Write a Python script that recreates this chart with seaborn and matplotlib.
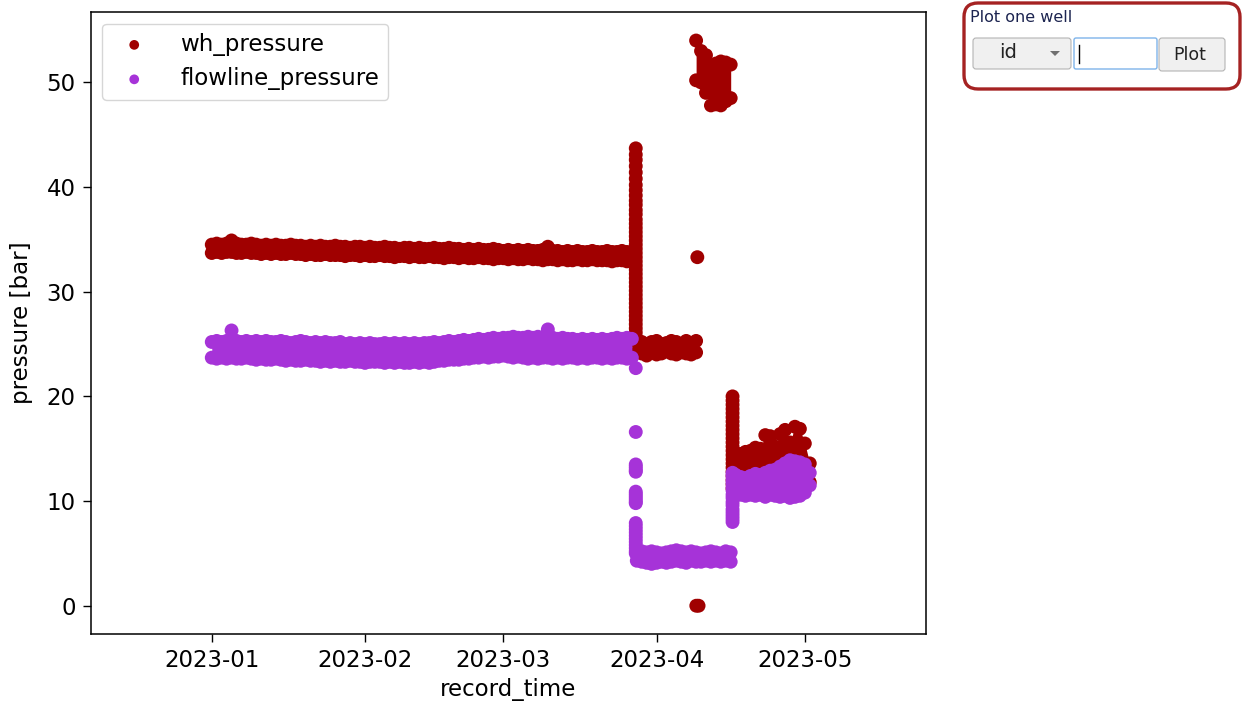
import matplotlib
matplotlib.use("Agg")
import matplotlib.pyplot as plt
import matplotlib.dates as mdates
from matplotlib.patches import FancyBboxPatch, Polygon
import seaborn as sns
import pandas as pd

WH_COLOR = "#a00000"
FL_COLOR = "#a633d8"
FS = 16.5

# ---- wh_pressure ----
# steady period, daily from 2023-01-01: top / bottom edge of the band
wh_a_hi = [34.5, 34.6, 34.5, 34.6, 34.9, 34.6, 34.5, 34.5, 34.6, 34.5,
           34.4, 34.5, 34.4, 34.5, 34.4, 34.4, 34.5, 34.4, 34.4, 34.3,
           34.4, 34.3, 34.4, 34.3, 34.3, 34.4, 34.3, 34.3, 34.2, 34.3,
           34.3, 34.2, 34.3, 34.2, 34.2, 34.3, 34.2, 34.2, 34.1, 34.2,
           34.2, 34.1, 34.2, 34.1, 34.1, 34.2, 34.1, 34.1, 34.2, 34.1,
           34.1, 34.0, 34.1, 34.0, 34.1, 34.0, 34.0, 34.1, 34.0, 33.9,
           34.0, 33.9, 34.0, 33.9, 34.0, 33.9, 33.9, 34.0, 34.3, 33.9,
           33.9, 33.8, 33.9, 33.8, 33.9, 33.8, 33.8, 33.9, 33.8, 33.8,
           33.9, 33.8, 33.8, 33.9, 33.8, 33.8]
wh_a_lo = [33.7, 33.8, 33.7, 33.8, 33.8, 33.7, 33.7, 33.8, 33.7, 33.7,
           33.6, 33.7, 33.6, 33.7, 33.6, 33.6, 33.7, 33.6, 33.6, 33.5,
           33.6, 33.5, 33.5, 33.6, 33.5, 33.5, 33.5, 33.4, 33.5, 33.5,
           33.4, 33.5, 33.4, 33.4, 33.5, 33.4, 33.4, 33.3, 33.4, 33.4,
           33.3, 33.4, 33.3, 33.3, 33.4, 33.3, 33.3, 33.2, 33.3, 33.3,
           33.2, 33.3, 33.2, 33.2, 33.3, 33.2, 33.2, 33.1, 33.2, 33.2,
           33.1, 33.2, 33.1, 33.1, 33.2, 33.1, 33.1, 33.0, 33.1, 33.1,
           33.0, 33.1, 33.0, 33.0, 33.1, 33.0, 33.0, 33.1, 33.0, 33.0,
           33.0, 32.9, 33.0, 33.0, 32.9, 33.0]
wh_jump_time = "2023-03-27 19:00"
wh_jump = [43.7, 43.1, 42.6, 42.0, 41.4, 40.8, 40.2, 39.7, 39.2, 38.7,
           38.3, 37.8, 37.4, 36.9, 36.5, 36.1, 35.7, 35.3, 34.9, 34.5,
           34.1, 33.7, 33.3, 32.9, 32.5, 32.1, 31.7, 31.3, 30.9, 30.5,
           30.1, 29.7, 29.3, 28.9, 28.5, 28.1, 27.7, 27.3, 26.9, 26.5,
           26.1, 25.7, 25.3]
# daily from 2023-03-28
wh_b_hi = [25.3, 25.2, 25.0, 25.2, 25.3, 25.0, 25.1, 25.3, 25.2, 25.0, 25.3, 25.1, 25.3]
wh_b_lo = [24.2, 24.1, 23.9, 24.2, 24.0, 24.1, 24.3, 24.1, 24.0, 24.2, 24.1, 24.0, 24.2]
wh_odd_times = ["2023-04-09 06:00", "2023-04-09 01:00", "2023-04-09 12:00"]
wh_odd = [33.3, 0.0, 0.0]
# daily from 2023-04-09
wh_high_hi = [54.0, 53.0, 52.6, 51.5, 51.8, 52.0, 51.9, 51.7]
wh_high_lo = [50.2, 50.0, 49.0, 47.8, 47.9, 47.8, 48.2, 48.5]
wh_restart_time = "2023-04-16 09:00"
wh_restart = [20.0, 19.6, 19.2, 18.8, 18.4, 18.0, 17.6, 17.2, 16.8, 16.4,
              16.0, 15.6, 15.2, 14.8, 14.4, 14.0, 13.6, 13.2, 12.8, 12.4,
              12.0, 11.6, 11.2]
# daily from 2023-04-17
wh_c_hi = [13.4, 14.5, 14.7, 14.8, 15.1, 15.0, 16.3, 16.2, 15.2, 16.4,
           16.8, 15.6, 17.1, 16.9, 15.5, 13.6]
wh_c_lo = [11.2, 11.0, 11.1, 11.0, 11.2, 11.0, 11.1, 11.0, 11.2, 11.1,
           11.0, 11.1, 11.0, 11.2, 11.4, 11.8]

# ---- flowline_pressure ----
fl_a_hi = [25.2, 25.3, 25.2, 25.3, 26.3, 25.3, 25.2, 25.3, 25.2, 25.3,
           25.2, 25.3, 25.2, 25.2, 25.3, 25.2, 25.1, 25.2, 25.3, 25.2,
           25.1, 25.2, 25.1, 25.2, 25.1, 25.1, 25.2, 25.0, 25.1, 25.0,
           25.1, 25.0, 25.1, 25.0, 25.0, 25.1, 25.0, 25.1, 25.0, 25.1,
           25.0, 25.1, 25.0, 25.1, 25.1, 25.2, 25.1, 25.2, 25.3, 25.2,
           25.3, 25.4, 25.3, 25.4, 25.5, 25.4, 25.5, 25.6, 25.5, 25.6,
           25.6, 25.7, 25.6, 25.6, 25.7, 25.6, 25.7, 25.6, 26.4, 25.6,
           25.5, 25.6, 25.5, 25.5, 25.4, 25.5, 25.4, 25.5, 25.4, 25.5,
           25.4, 25.5, 25.6, 25.5, 25.6, 25.5]
fl_a_lo = [23.7, 23.6, 23.7, 23.6, 23.7, 23.6, 23.6, 23.7, 23.6, 23.5,
           23.6, 23.5, 23.5, 23.6, 23.5, 23.4, 23.5, 23.4, 23.4, 23.5,
           23.4, 23.4, 23.3, 23.4, 23.3, 23.4, 23.3, 23.3, 23.4, 23.3,
           23.3, 23.2, 23.3, 23.3, 23.3, 23.2, 23.3, 23.2, 23.3, 23.2,
           23.2, 23.3, 23.2, 23.3, 23.2, 23.3, 23.4, 23.4, 23.5, 23.5,
           23.5, 23.6, 23.6, 23.7, 23.7, 23.8, 23.7, 23.8, 23.8, 23.9,
           23.8, 23.7, 23.8, 23.7, 23.6, 23.7, 23.6, 23.7, 23.7, 23.6,
           23.7, 23.6, 23.7, 23.7, 23.6, 23.7, 23.6, 23.7, 23.7, 23.6,
           23.7, 23.6, 23.7, 23.7, 23.6, 23.7]
fl_drop_time = "2023-03-27 19:00"
fl_drop = [22.7, 16.6, 13.5, 13.3, 13.1, 12.9, 12.8, 10.9, 10.7, 10.5,
           10.3, 10.1, 9.9, 9.8, 7.9, 7.6, 7.3, 7.0, 6.7, 6.4,
           6.1, 5.8, 5.5, 5.2, 5.0]
# daily from 2023-03-28
fl_b_hi = [5.3, 5.2, 5.1, 5.2, 5.1, 5.0, 5.1, 5.2, 5.3, 5.2,
           5.1, 5.2, 5.1, 5.0, 5.1, 5.2, 5.1, 5.0, 5.2, 5.1]
fl_b_lo = [4.3, 4.2, 4.1, 4.0, 4.1, 4.2, 4.1, 4.2, 4.3, 4.2,
           4.1, 4.3, 4.2, 4.2, 4.3, 4.2, 4.3, 4.2, 4.3, 4.2]
fl_restart_time = "2023-04-16 09:00"
fl_restart = [12.7, 12.4, 12.0, 11.7, 11.3, 11.0, 10.6, 10.3, 9.9, 9.6,
              9.2, 8.9, 8.6, 8.3, 8.0]
# daily from 2023-04-17
fl_c_hi = [12.5, 12.3, 12.2, 12.4, 12.6, 12.5, 12.7, 12.9, 13.0, 13.3,
           13.6, 13.9, 13.8, 13.7, 13.5, 12.7]
fl_c_lo = [10.7, 10.6, 10.5, 10.6, 10.5, 10.6, 10.4, 10.6, 10.5, 10.4,
           10.5, 10.3, 10.4, 10.5, 10.8, 11.5]


def band(start, hi, lo):
    t = pd.date_range(start, periods=len(hi), freq="D")
    return t, hi, lo


wh_bands = [band("2023-01-01", wh_a_hi, wh_a_lo),
            band("2023-03-28", wh_b_hi, wh_b_lo),
            band("2023-04-09", wh_high_hi, wh_high_lo),
            band("2023-04-17", wh_c_hi, wh_c_lo)]
fl_bands = [band("2023-01-01", fl_a_hi, fl_a_lo),
            band("2023-03-28", fl_b_hi, fl_b_lo),
            band("2023-04-17", fl_c_hi, fl_c_lo)]


def points(bands, extra):
    parts = []
    for t, hi, lo in bands:
        parts.append(pd.DataFrame({"record_time": t, "pressure": hi}))
        parts.append(pd.DataFrame({"record_time": t, "pressure": lo}))
    for times, vals in extra:
        parts.append(pd.DataFrame({"record_time": pd.to_datetime(times), "pressure": vals}))
    return pd.concat(parts, ignore_index=True)


wh_df = points(wh_bands, [([wh_jump_time] * len(wh_jump), wh_jump),
                          (wh_odd_times, wh_odd),
                          ([wh_restart_time] * len(wh_restart), wh_restart)])
fl_df = points(fl_bands, [([fl_drop_time] * len(fl_drop), fl_drop),
                          ([fl_restart_time] * len(fl_restart), fl_restart)])

fig = plt.figure(figsize=(12.44, 7.09), dpi=100)
ax = fig.add_axes([0.0729, 0.1058, 0.6714, 0.8769])

sns.scatterplot(data=wh_df, x="record_time", y="pressure", color=WH_COLOR,
                s=100, linewidth=0, edgecolor="none", label="wh_pressure",
                zorder=2, ax=ax)
sns.scatterplot(data=fl_df, x="record_time", y="pressure", color=FL_COLOR,
                s=100, linewidth=0, edgecolor="none", label="flowline_pressure",
                zorder=4, ax=ax)
# fill the inside of each band (between its upper and lower edge readings)
for bands, col, z in [(wh_bands, WH_COLOR, 1.5), (fl_bands, FL_COLOR, 3.5)]:
    for t, hi, lo in bands:
        ax.fill_between(mdates.date2num(t.to_pydatetime()), lo, hi,
                        color=col, linewidth=0, zorder=z)

ax.set_xlim(mdates.date2num(pd.Timestamp("2022-12-07 12:00")),
            mdates.date2num(pd.Timestamp("2023-05-25 12:00")))
ax.set_ylim(-2.7, 56.7)
ax.xaxis.set_major_locator(mdates.MonthLocator())
ax.xaxis.set_major_formatter(mdates.DateFormatter("%Y-%m"))
ax.set_xlabel("record_time", fontsize=FS)
ax.set_ylabel("pressure [bar]", fontsize=FS, labelpad=10)
ax.tick_params(labelsize=FS, length=5.8, width=1, color="black", pad=5)
for sp in ax.spines.values():
    sp.set_linewidth(1.1)
    sp.set_color("black")
ax.legend(loc="upper left", fontsize=FS, markerscale=0.7, handlelength=2.0,
          handletextpad=1.0)

# ---- "Plot one well" control panel (top right) ----
H = 709


def box(x0, y0, x1, y1, r, **kw):
    p = FancyBboxPatch((x0 / 100, (H - y1) / 100), (x1 - x0) / 100, (y1 - y0) / 100,
                       boxstyle=f"round,pad=0,rounding_size={r / 100}",
                       transform=fig.dpi_scale_trans, **kw)
    fig.add_artist(p)


def label(x, y, s, **kw):
    fig.text(x / 100, (H - y) / 100, s, transform=fig.dpi_scale_trans, **kw)


box(964, 3, 1240, 89, 14, facecolor="white", edgecolor="#a52222", linewidth=2.4)
label(970, 18, "Plot one well", fontsize=11.5, color="#1c2450", ha="left", va="center")
box(973, 38, 1071, 69, 3, facecolor="#f0f0f0", edgecolor="#b4b4b4", linewidth=0.8)
label(1008, 53, "id", fontsize=14, color="#222222", ha="center", va="center")
fig.add_artist(Polygon([(1050 / 100, (H - 51) / 100), (1060 / 100, (H - 51) / 100),
                        (1055 / 100, (H - 56) / 100)], closed=True,
                       facecolor="#707070", edgecolor="none",
                       transform=fig.dpi_scale_trans))
box(1074, 38, 1157, 69, 2, facecolor="white", edgecolor="#7eb4ea", linewidth=1.0)
fig.add_artist(plt.Line2D([1079 / 100, 1079 / 100], [(H - 45) / 100, (H - 63) / 100],
                          color="black", linewidth=1.0, transform=fig.dpi_scale_trans))
box(1159, 38, 1225, 71, 3, facecolor="#f0f0f0", edgecolor="#b4b4b4", linewidth=0.8)
label(1190, 55, "Plot", fontsize=12.5, color="#222222", ha="center", va="center")

fig.savefig("out.png", dpi=100)
